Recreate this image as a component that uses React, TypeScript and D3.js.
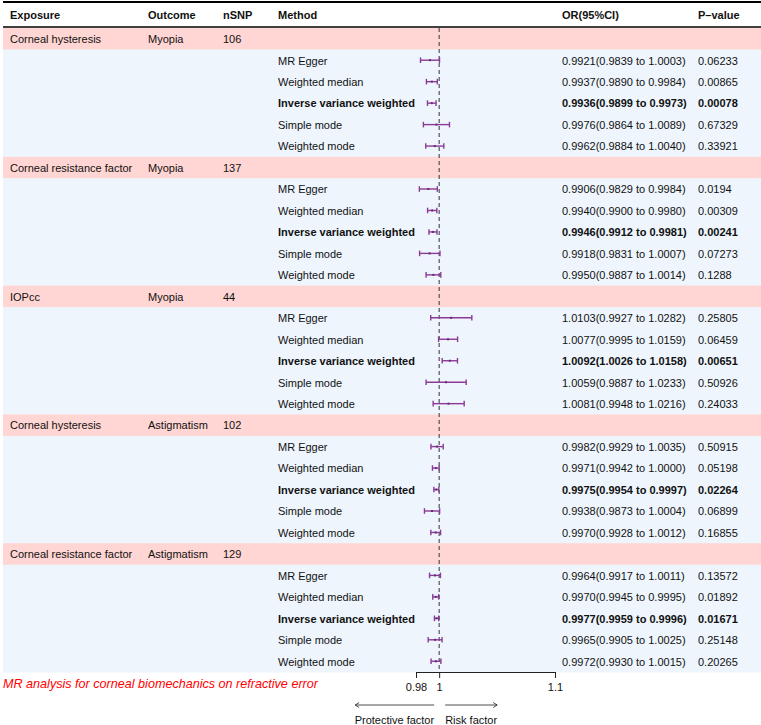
import React, { useEffect, useRef } from "react";
import * as d3 from "d3";

const exposures = ["Corneal hysteresis", "Corneal resistance factor", "IOPcc", "Corneal hysteresis", "Corneal resistance factor"];
const outcomes = ["Myopia", "Myopia", "Myopia", "Astigmatism", "Astigmatism"];
const nSNPs = [106, 137, 44, 102, 129];
const methods = ["MR Egger", "Weighted median", "Inverse variance weighted", "Simple mode", "Weighted mode"];
const orEst = [
  [0.9921, 0.9937, 0.9936, 0.9976, 0.9962],
  [0.9906, 0.994, 0.9946, 0.9918, 0.995],
  [1.0103, 1.0077, 1.0092, 1.0059, 1.0081],
  [0.9982, 0.9971, 0.9975, 0.9938, 0.997],
  [0.9964, 0.997, 0.9977, 0.9965, 0.9972],
];
const ciLow = [
  [0.9839, 0.989, 0.9899, 0.9864, 0.9884],
  [0.9829, 0.99, 0.9912, 0.9831, 0.9887],
  [0.9927, 0.9995, 1.0026, 0.9887, 0.9948],
  [0.9929, 0.9942, 0.9954, 0.9873, 0.9928],
  [0.9917, 0.9945, 0.9959, 0.9905, 0.993],
];
const ciHigh = [
  [1.0003, 0.9984, 0.9973, 1.0089, 1.004],
  [0.9984, 0.998, 0.9981, 1.0007, 1.0014],
  [1.0282, 1.0159, 1.0158, 1.0233, 1.0216],
  [1.0035, 1.0, 0.9997, 1.0004, 1.0012],
  [1.0011, 0.9995, 0.9996, 1.0025, 1.0015],
];
const pValues = [
  [0.06233, 0.00865, 0.00078, 0.67329, 0.33921],
  [0.0194, 0.00309, 0.00241, 0.07273, 0.1288],
  [0.25805, 0.06459, 0.00651, 0.50926, 0.24033],
  [0.50915, 0.05198, 0.02264, 0.06899, 0.16855],
  [0.13572, 0.01892, 0.01671, 0.25148, 0.20265],
];
const headers = ["Exposure", "Outcome", "nSNP", "Method", "", "OR(95%CI)", "P\u2013value"];
const axisTicks = [0.98, 1, 1.1];
const caption = "MR analysis for corneal biomechanics on refractive error";

const W = 761;
const H = 725;
const FONT = "'Liberation Sans', Arial, Helvetica, sans-serif";
const colX = [10, 148, 223, 278, 0, 562, 698];
const tableTop = 28;
const tableBottom = 672;
const PINK = "#FFD6D3";
const BLUE = "#EEF5FD";
const PURPLE = "#8B3A97";

type Row =
  | { kind: "group"; g: number }
  | { kind: "method"; g: number; m: number };

const rows: Row[] = [];
exposures.forEach((_, g) => {
  rows.push({ kind: "group", g });
  methods.forEach((_, m) => rows.push({ kind: "method", g, m }));
});

export default function App() {
  const axisRef = useRef<SVGGElement>(null);
  const x = d3.scaleLinear().domain([0.98, 1.1]).range([416, 555]);
  const y = d3
    .scaleBand<number>()
    .domain(rows.map((_, i) => i))
    .range([tableTop, tableBottom])
    .padding(0);
  const rh = y.bandwidth();

  useEffect(() => {
    if (!axisRef.current) return;
    const g = d3.select(axisRef.current);
    g.selectAll("*").remove();
    g.call(
      d3
        .axisBottom(x)
        .tickValues(axisTicks)
        .tickSize(6)
        .tickSizeOuter(0)
        .tickPadding(5)
        .tickFormat((d) => String(d))
    );
    g.select(".domain").attr("stroke", "#222").attr("stroke-width", 1);
    g.selectAll(".tick line").attr("stroke", "#222").attr("stroke-width", 1);
    g.selectAll(".tick text")
      .attr("fill", "#111")
      .style("font-family", FONT)
      .style("font-size", "11px");
  }, []);

  const x1 = x(1);

  return (
    <svg
      width={W}
      height={H}
      style={{ position: "absolute", left: 0, top: 0, background: "#fff" }}
      fontFamily={FONT}
      fontSize={11}
    >
      {/* header */}
      <line x1={3} x2={W} y1={2} y2={2} stroke="#000" strokeWidth={2} />
      <line x1={3} x2={W} y1={27} y2={27} stroke="#000" strokeWidth={1.5} />
      {headers.map((h, i) =>
        h ? (
          <text key={i} x={colX[i]} y={19} fontWeight="bold" fill="#111">
            {h}
          </text>
        ) : null
      )}

      {/* row backgrounds */}
      {rows.map((r, i) => (
        <rect
          key={"bg" + i}
          x={3}
          y={y(i)!}
          width={W - 3}
          height={rh + 0.5}
          fill={r.kind === "group" ? PINK : BLUE}
        />
      ))}

      {/* reference dashed line */}
      <line
        x1={x1}
        x2={x1}
        y1={tableTop}
        y2={tableBottom}
        stroke="#333"
        strokeWidth={1}
        strokeDasharray="4,3"
      />

      {/* row text and CI */}
      {rows.map((r, i) => {
        const cy = y(i)! + rh / 2;
        const ty = cy + 4.3;
        if (r.kind === "group") {
          return (
            <g key={"r" + i} fill="#111">
              <text x={colX[0]} y={ty}>{exposures[r.g]}</text>
              <text x={colX[1]} y={ty}>{outcomes[r.g]}</text>
              <text x={colX[2]} y={ty}>{nSNPs[r.g]}</text>
            </g>
          );
        }
        const { g, m } = r;
        const bold = m === 2;
        const est = orEst[g][m];
        const lo = ciLow[g][m];
        const hi = ciHigh[g][m];
        const orText = `${est.toFixed(4)}(${lo.toFixed(4)} to ${hi.toFixed(4)})`;
        return (
          <g key={"r" + i} fill="#111" fontWeight={bold ? "bold" : "normal"}>
            <text x={colX[3]} y={ty}>{methods[m]}</text>
            <text x={colX[5]} y={ty}>{orText}</text>
            <text x={colX[6]} y={ty}>{String(pValues[g][m])}</text>
            <g stroke={PURPLE} strokeWidth={1.4}>
              <line x1={x(lo)} x2={x(hi)} y1={cy} y2={cy} />
              <line x1={x(lo)} x2={x(lo)} y1={cy - 2.8} y2={cy + 2.8} />
              <line x1={x(hi)} x2={x(hi)} y1={cy - 2.8} y2={cy + 2.8} />
            </g>
            <rect x={x(est) - 1} y={cy - 1} width={2} height={2} fill="#6a2a75" />
          </g>
        );
      })}

      {/* axis */}
      <g ref={axisRef} transform={`translate(0,${tableBottom})`} />

      {/* caption */}
      <text x={3} y={688} fill="#ff0000" fontStyle="italic" fontSize={12.6}>
        {caption}
      </text>

      {/* arrows */}
      <g stroke="#222" strokeWidth={0.8} fill="none">
        <line x1={x1 - 5} x2={x1 - 84} y1={705} y2={705} />
        <polyline points={`${x1 - 80},${702.5} ${x1 - 84},705 ${x1 - 80},${707.5}`} />
        <line x1={x1 + 6} x2={x1 + 58} y1={705} y2={705} />
        <polyline points={`${x1 + 54},${702.5} ${x1 + 58},705 ${x1 + 54},${707.5}`} />
      </g>
      <text x={x1 - 5} y={724} textAnchor="end" fill="#111">Protective factor</text>
      <text x={x1 + 6} y={724} fill="#111">Risk factor</text>
    </svg>
  );
}
